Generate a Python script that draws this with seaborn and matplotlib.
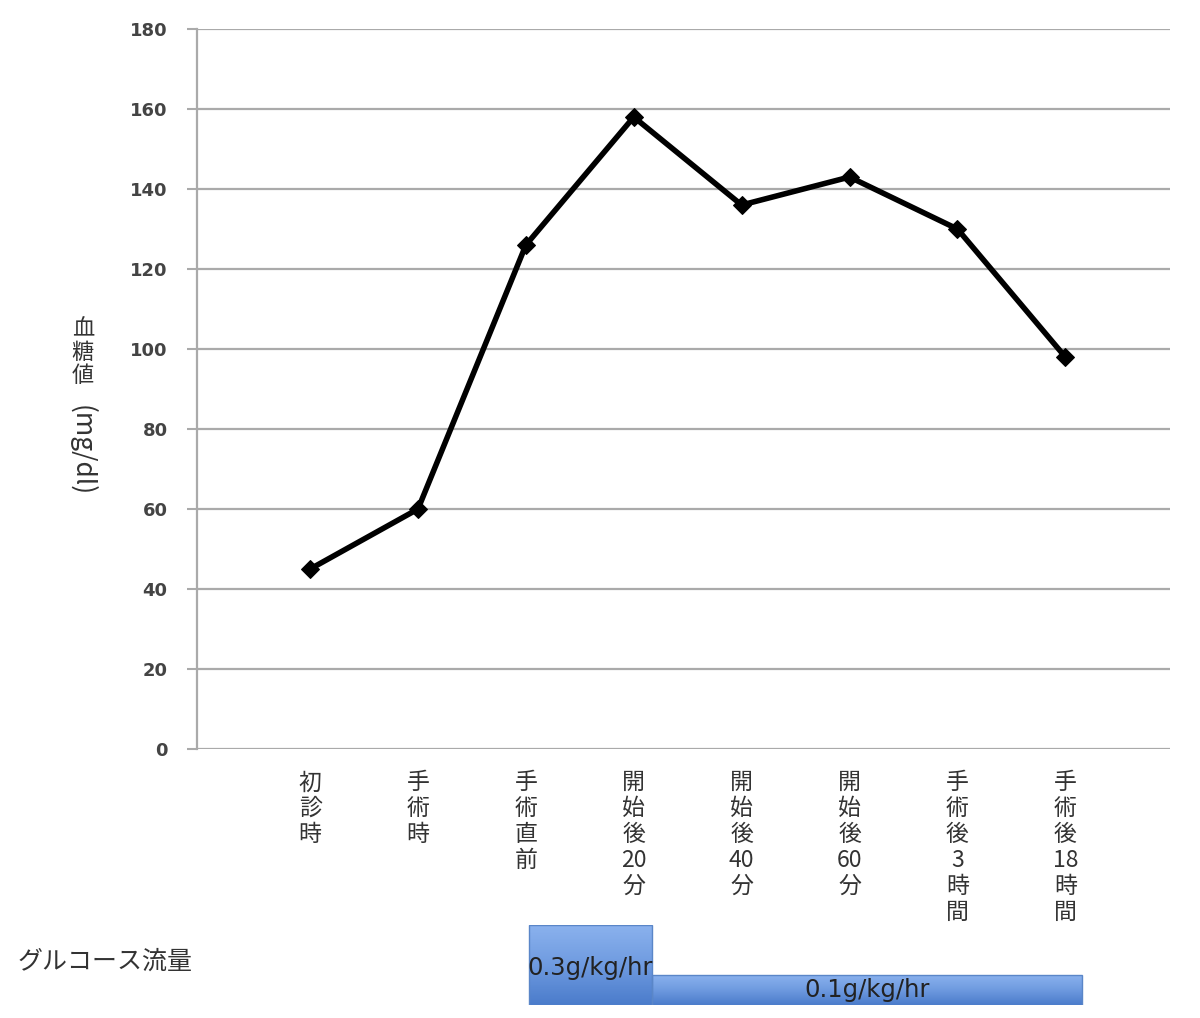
import numpy as np
import matplotlib
matplotlib.use("Agg")
import matplotlib.pyplot as plt
import seaborn as sns
from matplotlib.patches import Rectangle

# data
categories = ["初診時", "手術時", "手術直前", "開始後20分", "開始後40分",
              "開始後60分", "手術後3時間", "手術後18時間"]
glucose = [45, 60, 126, 158, 136, 143, 130, 98]
y_ticks = [0, 20, 40, 60, 80, 100, 120, 140, 160, 180]

# glucose infusion periods (start / end in category units) and labels
flow_labels = ["0.3g/kg/hr", "0.1g/kg/hr"]
flow_start = [2.03, 3.17]
flow_end = [3.17, 7.15]
flow_height = [1.0, 0.38]


def stack(label):
    # vertical stacking, keep digit runs together
    out, buf = [], ""
    for ch in label:
        if ch.isdigit():
            buf += ch
        else:
            if buf:
                out.append(buf)
                buf = ""
            out.append(ch)
    if buf:
        out.append(buf)
    return "\n".join(out)


sns.set_style("white")
plt.rcParams['font.family'] = ['Noto Sans CJK JP', 'DejaVu Sans']

fig = plt.figure(figsize=(12, 10.18), dpi=100)
ax = fig.add_axes([0.164, 0.2642, 0.811, 0.7073])

x = np.arange(len(categories))
sns.lineplot(x=x, y=glucose, ax=ax, color="black", linewidth=4,
             marker="D", markersize=9, markeredgecolor="black")

xlim = (-1.05, 7.97)
ax.set_ylim(0, 180)
ax.set_xlim(*xlim)
ax.set_yticks(y_ticks)
ax.set_yticklabels([str(v) for v in y_ticks], fontsize=13, fontweight="bold",
                   color="#444444", family=['DejaVu Sans'])
ax.yaxis.grid(True, color="#aaaaaa", linewidth=1.6)
ax.set_axisbelow(True)
ax.tick_params(axis="y", length=7, width=1.5, color="#aaaaaa", pad=14, left=True)

ax.set_xticks(x)
ax.set_xticklabels([stack(c) for c in categories], fontsize=16.5,
                   color="#333333", linespacing=1.16, va="top")
ax.tick_params(axis="x", length=0, pad=16)

for s in ["top", "right", "bottom"]:
    ax.spines[s].set_visible(False)
ax.spines["left"].set_color("#aaaaaa")
ax.spines["left"].set_linewidth(1.6)

# y label: stacked kanji + rotated unit
fig.text(0.069, 0.688, "血\n糖\n値", fontsize=16, color="#333333",
         ha="center", va="top", linespacing=1.0)
fig.text(0.068, 0.557, "(mg/dl)", fontsize=19, color="#333333",
         ha="center", va="center", rotation=-90)

# glucose flow bars
fig.text(0.015, 0.055, "グルコース流量", fontsize=18, color="#333333",
         ha="left", va="center")
bx = fig.add_axes([0.164, 0.0128, 0.811, 0.0786])
bx.set_xlim(*xlim)
bx.set_ylim(0, 1)
bx.axis("off")
grad = np.linspace(0, 1, 64).reshape(-1, 1)
cmap = matplotlib.colors.LinearSegmentedColormap.from_list(
    "flow", ["#4b7ccb", "#6f9be0", "#8bb2ee"])
for s, e, h in zip(flow_start, flow_end, flow_height):
    im = bx.imshow(grad, extent=(s, e, 0, h), origin="lower", aspect="auto",
                   cmap=cmap, zorder=1)
    rect = Rectangle((s, 0), e - s, h, facecolor="none", edgecolor="#5a86c8",
                     linewidth=1, zorder=2)
    bx.add_patch(rect)
    im.set_clip_path(rect)
bx.set_xlim(*xlim)
bx.set_ylim(0, 1)
for lab, s, e, ty in zip(flow_labels, flow_start, flow_end, [0.46, 0.19]):
    bx.text((s + e) / 2, ty, lab, fontsize=17.5, color="#222222",
            ha="center", va="center", family=['DejaVu Sans'], zorder=3)

fig.savefig("out.png", dpi=100)
